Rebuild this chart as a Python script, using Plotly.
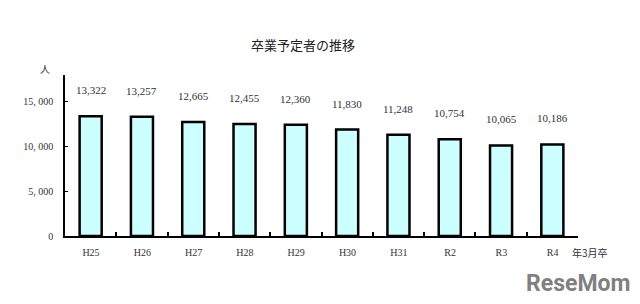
import plotly.graph_objects as go

categories = ["H25", "H26", "H27", "H28", "H29", "H30", "H31", "R2", "R3", "R4"]
values = [13322, 13257, 12665, 12455, 12360, 11830, 11248, 10754, 10065, 10186]
ytick_vals = [0, 5000, 10000, 15000]
ytick_text = ["0", "5, 000", "10, 000", "15, 000"]

serif = "Liberation Serif, DejaVu Serif, serif"
cjk = "Noto Sans CJK JP, sans-serif"
n = len(categories)
plot_w = 640 - 65 - 62

fig = go.Figure()
fig.add_trace(go.Bar(
    x=list(range(n)), y=values,
    width=0.43,
    marker=dict(color="#CCFFFF", line=dict(color="#000000", width=2.5)),
    hoverinfo="skip",
))

for i, v in enumerate(values):
    fig.add_annotation(x=i, y=v, text=f"{v:,}", showarrow=False,
                       xanchor="center", yanchor="bottom", yshift=18,
                       font=dict(family=serif, size=11, color="#333333"))

# ticks at category boundaries, labels shifted half a category to the right
fig.update_layout(
    width=640, height=304,
    margin=dict(l=65, r=62, t=75, b=68),
    paper_bgcolor="white", plot_bgcolor="white",
    showlegend=False,
    xaxis=dict(
        range=[-0.5, n - 0.5],
        tickmode="array", tickvals=[i - 0.5 for i in range(n + 1)],
        ticktext=categories + [""],
        ticks="inside", ticklen=4, tickcolor="black", tickwidth=1.5,
        ticklabelshift=int(round(plot_w / n / 2)),
        showline=True, linecolor="black", linewidth=1.5,
        showgrid=False, zeroline=False,
        tickfont=dict(family=serif, size=10, color="#333333"),
        ticklabelstandoff=6,
    ),
)
fig.update_yaxes(
    range=[0, 17900],
    tickmode="array", tickvals=ytick_vals, ticktext=ytick_text,
    ticks="inside", ticklen=3, tickcolor="black",
    showline=True, linecolor="black", linewidth=1.5,
    showgrid=False, zeroline=False,
    tickfont=dict(family=serif, size=10, color="#333333"),
    ticklabelstandoff=8,
)

fig.add_annotation(text="卒業予定者の推移", xref="paper", yref="paper",
                   x=(303 - 65) / 513, y=1 + (75 - 44) / 161, showarrow=False,
                   xanchor="center", yanchor="middle",
                   font=dict(family=cjk, size=13, color="#222222"))
fig.add_annotation(text="人", xref="paper", yref="paper",
                   x=(45 - 65) / 513, y=1 + (75 - 68) / 161, showarrow=False,
                   xanchor="center", yanchor="middle",
                   font=dict(family=cjk, size=10, color="#333333"))
fig.add_annotation(text="年3月卒", xref="paper", yref="paper",
                   x=(590 - 65) / 513, y=-(252 - 236) / 161, showarrow=False,
                   xanchor="center", yanchor="middle",
                   font=dict(family=cjk, size=10, color="#333333"))
fig.add_annotation(text="<b>ReseMom</b>", xref="paper", yref="paper",
                   x=(578 - 65) / 513, y=-(283 - 236) / 161, showarrow=False,
                   xanchor="center", yanchor="middle",
                   font=dict(family="Roboto, sans-serif", size=23, color="#808080"))

fig.write_html("out.html")
